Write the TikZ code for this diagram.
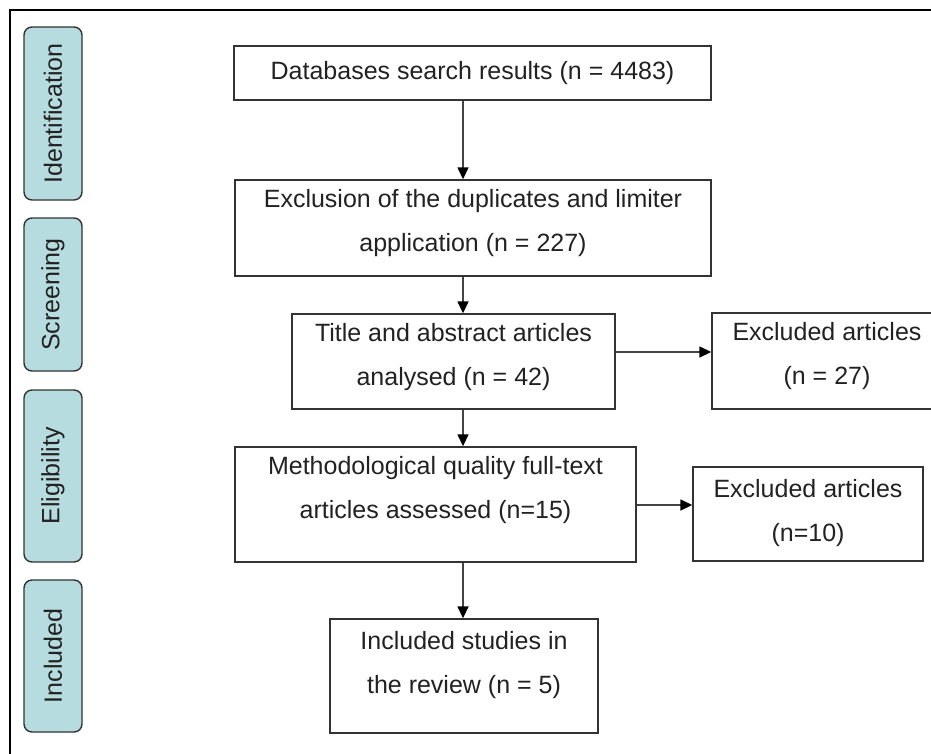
\documentclass[tikz,border=0pt]{standalone}
\usepackage{fontspec}
\setmainfont{Liberation Sans}
\usetikzlibrary{arrows.meta}
\definecolor{phasefill}{HTML}{B7DCE0}
\definecolor{boxline}{HTML}{333333}
\definecolor{txtcol}{HTML}{222222}
\definecolor{arrcol}{HTML}{444444}
\begin{document}
\begin{tikzpicture}[x=1pt,y=-1pt,
  box/.style={draw=boxline, line width=1.4pt, fill=white, inner sep=0pt},
  txt/.style={font=\fontsize{25}{44}\selectfont, text=txtcol, align=center, inner sep=0pt},
  phase/.style={draw=boxline, line width=1.4pt, fill=phasefill, rounded corners=8pt,
    minimum height=58pt, inner sep=0pt, rotate=90,
    font=\fontsize{25}{30}\selectfont, text=txtcol},
  arr/.style={draw=arrcol, line width=1.5pt, -{Triangle[length=12pt,width=11pt,color=black]}}]
\clip (0,0) rectangle (931,753);
\fill[white] (0,0) rectangle (931,753);
% outer frame
\draw[line width=2pt, black] (10,10) rectangle (1000,1000);

% phase labels
\node[phase, minimum width=173pt] (p1) at (53,113.5) {Identification};
\node[phase, minimum width=153pt] (p2) at (53,294.5) {Screening};
\node[phase, minimum width=172pt] (p3) at (53,476) {Eligibility};
\node[phase, minimum width=152pt] (p4) at (53,656) {Included};

% boxes
\node[box, minimum width=477pt, minimum height=54pt] (b1) at (472.5,73) {};
\node[txt] (t1) at (472.5,73) {Databases search results (n = 4483)};

\node[box, minimum width=476pt, minimum height=96pt] (b2) at (473,228) {};
\node[txt] (t2) at (473,223.5) {Exclusion of the duplicates and limiter\\application (n = 227)};

\node[box, minimum width=323pt, minimum height=95pt] (b3) at (453.5,361.5) {};
\node[txt] (t3) at (453.5,357.5) {Title and abstract articles\\analysed (n = 42)};

\node[box, minimum width=230pt, minimum height=96pt] (b4) at (827,361) {};
\node[txt] (t4) at (827,356) {Excluded articles\\(n = 27)};

\node[box, minimum width=401pt, minimum height=115pt] (b5) at (435.5,504.5) {};
\node[txt] (t5) at (435.5,490) {Methodological quality full-text\\articles assessed (n=15)};

\node[box, minimum width=230pt, minimum height=94pt] (b6) at (808,514) {};
\node[txt] (t6) at (808,513.5) {Excluded articles\\(n=10)};

\node[box, minimum width=268pt, minimum height=114pt] (b7) at (464,676) {};
\node[txt] (t7) at (464,665.5) {Included studies in\\the review (n = 5)};

% connector guide coordinates
\coordinate (ax) at (463,0);
\coordinate (ay1) at (0,352);
\coordinate (ay2) at (0,505);

% connectors
\draw[arr] (b1.south -| ax) -- (b2.north -| ax);
\draw[arr] (b2.south -| ax) -- (b3.north -| ax);
\draw[arr] (b3.south -| ax) -- (b5.north -| ax);
\draw[arr] (b5.south -| ax) -- (b7.north -| ax);
\draw[arr] (b3.east |- ay1) -- (b4.west |- ay1);
\draw[arr] (b5.east |- ay2) -- (b6.west |- ay2);
\end{tikzpicture}
\end{document}
